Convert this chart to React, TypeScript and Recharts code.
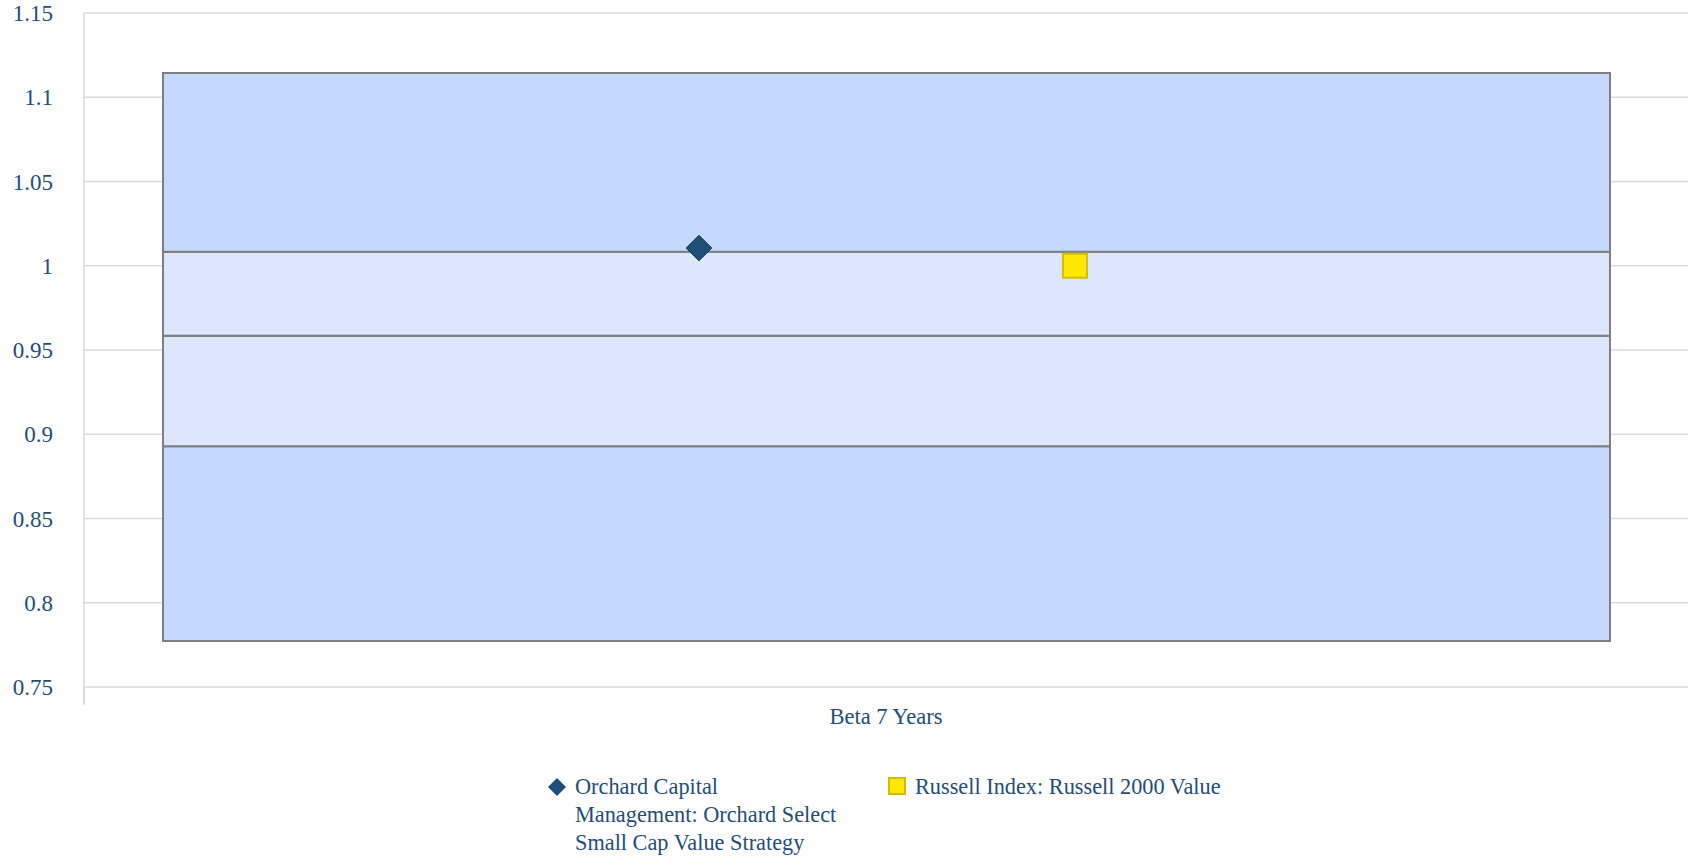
import { ComposedChart, Bar, Scatter, XAxis, YAxis, CartesianGrid, Legend, ReferenceLine } from 'recharts';

const category = 'Beta 7 Years';
// quartile boundaries of the peer range: low, q1, median, q3, high
const rangeBounds = [0.7773, 0.8929, 0.9584, 1.0083, 1.1144];
const orchardBeta = [1.0105];
const russellBeta = [1.0];
// horizontal slot of each marker inside the category (0..1)
const orchardSlot = [0.3834];
const russellSlot = [0.6178];
const yTicks = [0.75, 0.8, 0.85, 0.9, 0.95, 1, 1.05, 1.1, 1.15];

const TEXT = '#1f4e79';
const FONT = 'Liberation Serif, Times New Roman, serif';

const barRow = {
  name: category,
  base: rangeBounds[0],
  q1: rangeBounds[1] - rangeBounds[0],
  q2: rangeBounds[2] - rangeBounds[1],
  q3: rangeBounds[3] - rangeBounds[2],
  q4: rangeBounds[4] - rangeBounds[3],
};

const orchardPts = orchardBeta.map((v, i) => ({ x: orchardSlot[i], y: v }));
const russellPts = russellBeta.map((v, i) => ({ x: russellSlot[i], y: v }));

const Diamond = (props: any) => {
  const { cx, cy } = props;
  const r = 12.8;
  return (
    <polygon
      points={`${cx},${cy - r} ${cx + r},${cy} ${cx},${cy + r} ${cx - r},${cy}`}
      fill="#1f4e79"
      stroke="#17395c"
      strokeWidth={1}
    />
  );
};

const Square = (props: any) => {
  const { cx, cy } = props;
  const s = 24;
  return <rect x={cx - s / 2} y={cy - s / 2} width={s} height={s} fill="#ffe800" stroke="#d4bd00" strokeWidth={2} />;
};

const YTick = (props: any) => {
  const { x, y, payload } = props;
  return (
    <text x={x} y={y} dy="0.355em" textAnchor="end" fill={TEXT} fontSize={23} fontFamily={FONT}>
      {payload.value}
    </text>
  );
};

const XTick = (props: any) => {
  const { x, y, payload } = props;
  return (
    <text x={x} y={y} dy="0.71em" textAnchor="middle" fill={TEXT} fontSize={22.5} fontFamily={FONT}>
      {payload.value}
    </text>
  );
};

const LegendBox = () => (
  <div
    style={{
      height: 86,
      boxSizing: 'border-box',
      paddingTop: 2,
      paddingLeft: 548,
      display: 'flex',
      alignItems: 'flex-start',
      fontFamily: FONT,
      fontSize: 22.3,
      lineHeight: '28px',
      color: TEXT,
    }}
  >
    <div style={{ display: 'flex', alignItems: 'flex-start' }}>
      <svg width={18} height={28} style={{ flexShrink: 0 }}>
        <polygon points="9,5 18,14 9,23 0,14" fill="#1f4e79" />
      </svg>
      <div style={{ width: 266, marginLeft: 9 }}>Orchard Capital Management: Orchard Select Small Cap Value Strategy</div>
    </div>
    <div style={{ display: 'flex', alignItems: 'flex-start', marginLeft: 47 }}>
      <svg width={18} height={28} style={{ flexShrink: 0 }}>
        <rect x={1} y={5} width={16} height={16} fill="#ffe800" stroke="#d4bd00" strokeWidth={2} />
      </svg>
      <div style={{ marginLeft: 9, whiteSpace: 'nowrap' }}>Russell Index: Russell 2000 Value</div>
    </div>
  </div>
);

export default function App() {
  return (
    <div style={{ position: 'absolute', left: 0, top: 0, background: '#fff', fontFamily: FONT }}>
      <ComposedChart width={1688} height={857} data={[barRow]} margin={{ top: 13, right: 0, bottom: 0, left: 0 }}>
        <CartesianGrid vertical={false} stroke="#d9d9d9" strokeWidth={1.5} />
        <XAxis
          xAxisId="cat"
          dataKey="name"
          type="category"
          height={84}
          axisLine={false}
          tickLine={false}
          tickSize={0}
          tickMargin={21}
          tick={XTick}
        />
        <XAxis xAxisId="pos" dataKey="x" type="number" domain={[0, 1]} hide />
        <YAxis
          type="number"
          domain={[0.75, 1.15]}
          ticks={yTicks}
          allowDataOverflow
          width={84}
          tickLine={false}
          tickSize={0}
          tickMargin={31}
          axisLine={{ stroke: '#d9d9d9', strokeWidth: 1.5 }}
          tick={YTick}
        />
        <Bar xAxisId="cat" dataKey="base" stackId="r" barSize={1447} fill="transparent" isAnimationActive={false} legendType="none" />
        <Bar xAxisId="cat" dataKey="q1" stackId="r" barSize={1447} fill="#c5d8fd" stroke="#7f7f7f" strokeWidth={2} isAnimationActive={false} legendType="none" />
        <Bar xAxisId="cat" dataKey="q2" stackId="r" barSize={1447} fill="#dce6fd" stroke="#7f7f7f" strokeWidth={2} isAnimationActive={false} legendType="none" />
        <Bar xAxisId="cat" dataKey="q3" stackId="r" barSize={1447} fill="#dce6fd" stroke="#7f7f7f" strokeWidth={2} isAnimationActive={false} legendType="none" />
        <Bar xAxisId="cat" dataKey="q4" stackId="r" barSize={1447} fill="#c5d8fd" stroke="#7f7f7f" strokeWidth={2} isAnimationActive={false} legendType="none" />
        <ReferenceLine
          xAxisId="pos"
          segment={[{ x: 0, y: 0.75 }, { x: 0, y: 0.7395 }]}
          stroke="#c3d3ea"
          strokeWidth={1.5}
          ifOverflow="visible"
        />
        <Scatter xAxisId="pos" data={orchardPts} dataKey="y" shape={Diamond} isAnimationActive={false} name="Orchard Capital Management: Orchard Select Small Cap Value Strategy" />
        <Scatter xAxisId="pos" data={russellPts} dataKey="y" shape={Square} isAnimationActive={false} name="Russell Index: Russell 2000 Value" />
        <Legend verticalAlign="bottom" content={LegendBox} wrapperStyle={{ left: 0, width: 1688 }} />
      </ComposedChart>
    </div>
  );
}
